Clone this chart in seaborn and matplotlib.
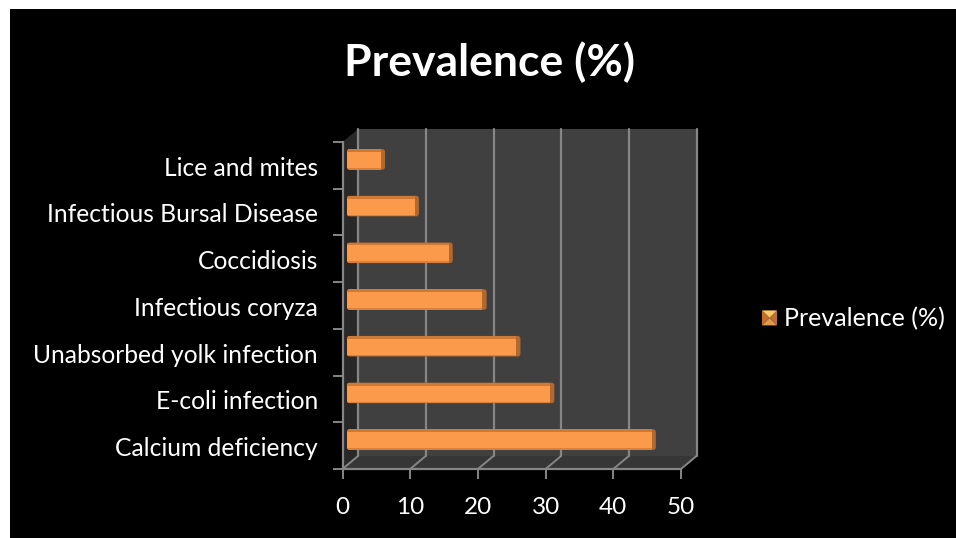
import matplotlib
matplotlib.use("Agg")
import matplotlib.pyplot as plt
import pandas as pd
import seaborn as sns
from matplotlib.legend_handler import HandlerBase
from matplotlib.patches import FancyBboxPatch, Polygon, Rectangle

diseases = ["Lice and mites", "Infectious Bursal Disease", "Coccidiosis", "Infectious coryza",
            "Unabsorbed yolk infection", "E-coli infection", "Calcium deficiency"]
prevalence = [5, 10, 15, 20, 25, 30, 45]
x_ticks = [0, 10, 20, 30, 40, 50]
series_name = "Prevalence (%)"

W, H = 956, 538
FONT = "Lato"
GREY = "#868686"

df = pd.DataFrame({"disease": diseases, "prevalence": prevalence})

sns.set_theme(style="white")
plt.rcParams["font.family"] = FONT

fig = plt.figure(figsize=(W / 100, H / 100), dpi=100, facecolor="white")


def box(left, top, right, bottom):
    # pixel box from the top left corner -> figure fractions
    return [left / W, 1 - bottom / H, (right - left) / W, (bottom - top) / H]


def px(points):
    return [(x / W, 1 - y / H) for x, y in points]


# black slide
fig.add_artist(Rectangle((10 / W, 0), 1, 1 - 9 / H, transform=fig.transFigure, fc="black", ec="none", zorder=-3))

# 3d walls
fig.add_artist(Polygon(px([(342.5, 142), (358, 129), (358, 456), (342.5, 469)]), transform=fig.transFigure,
                       fc="#282828", ec="none", zorder=-2))
fig.add_artist(Polygon(px([(342.5, 469), (358, 456), (697, 456), (681, 469)]), transform=fig.transFigure,
                       fc="#363636", ec="none", zorder=-2))

back = fig.add_axes(box(358, 129, 697, 456), facecolor="#404040")
back.set_xlim(0, 50)
back.set_ylim(0, 1)
back.set_yticks([])
back.set_xticks(x_ticks)
back.tick_params(labelbottom=False, length=0)
back.grid(axis="x", color=GREY, lw=1.6)
for line in back.get_xgridlines():
    line.set_clip_on(False)
back.set_axisbelow(True)
sns.despine(ax=back, left=True, bottom=True, top=True, right=True)

# floor lines and frame edges
for t in x_ticks:
    x0 = 342.5 + t * 6.77
    fig.add_artist(plt.Line2D([x0 / W, (x0 + 15.5) / W], [1 - 469 / H, 1 - 456 / H], color=GREY, lw=1.4))

# front plane with the axes
front = fig.add_axes(box(342.5, 142, 681, 469), facecolor="none")
front.set_xlim(0, 50)
front.set_ylim(6.5, -0.5)
front.set_xticks(x_ticks)
front.set_yticks([i - 0.5 for i in range(8)])
front.set_yticklabels([])
front.tick_params(axis="both", length=7, width=1.4, color=GREY, bottom=True, left=True, pad=13,
                  labelsize=17.5, labelcolor="white")
for side in ["top", "right"]:
    front.spines[side].set_visible(False)
for side in ["left", "bottom"]:
    front.spines[side].set_color(GREY)
    front.spines[side].set_linewidth(1.6)
for i, name in enumerate(diseases):
    front.text(-3.65, i + 0.06, name, ha="right", va="center", color="white", fontsize=17.75)

# the bars sit in the middle of the depth
bars = fig.add_axes(box(347, 136, 685.5, 463), facecolor="none")
sns.barplot(data=df, y="disease", x="prevalence", ax=bars, color="#FB9A4A", saturation=1, width=0.44,
            order=diseases, label=series_name, linewidth=0)
bars.set_xlim(0, 50)
bars.set_ylim(6.5, -0.5)
bars.axis("off")
handles, labels = bars.get_legend_handles_labels()
if bars.get_legend() is not None:
    bars.get_legend().remove()

for p in list(bars.patches):
    x, y, w, h = p.get_x(), p.get_y(), p.get_width(), p.get_height()
    # dark shell gives the side face, and rounds the corners of everything on top
    shell = FancyBboxPatch((x, y), w + 0.62, h, boxstyle="round,pad=0,rounding_size=0.4",
                           mutation_aspect=6.77 / 46.7, fc="#B5682A", ec="none", zorder=1.5, clip_on=False)
    bars.add_patch(shell)
    p.set_zorder(2)
    p.set_clip_path(shell)
    top = Rectangle((x, y), w, h * 0.14, fc="#CF7A34", ec="none", zorder=2.1)
    low = Rectangle((x, y + h * 0.92), w, h * 0.08, fc="#D9803A", ec="none", zorder=2.1)
    for part in (top, low):
        bars.add_patch(part)
        part.set_clip_path(shell)


class PyramidHandler(HandlerBase):
    def create_artists(self, legend, orig, xd, yd, width, height, fontsize, trans):
        s = 10.8
        x0, y0 = (width - s) / 2 - xd, (height - s) / 2 - yd
        c = (x0 + s / 2, y0 + s / 2)
        corners = [(x0, y0), (x0 + s, y0), (x0 + s, y0 + s), (x0, y0 + s)]
        cols = ["#E09A50", "#C0702C", "#FFC763", "#C0702C"]
        out = []
        for i, col in enumerate(cols):
            out.append(Polygon([corners[i], corners[(i + 1) % 4], c], fc=col, ec="none", transform=trans))
        return out


fig.legend(handles, labels, loc="center left", bbox_to_anchor=(759.5 / W, 1 - 319 / H), frameon=False, fontsize=18,
           labelcolor="white", handlelength=0.8, handletextpad=0.2, borderaxespad=0, borderpad=0,
           handler_map={type(handles[0]): PyramidHandler()})

fig.text(490 / W, 1 - 62 / H, series_name, ha="center", va="center", color="white", fontsize=32, fontweight="bold")

fig.savefig("out.png", dpi=100)
